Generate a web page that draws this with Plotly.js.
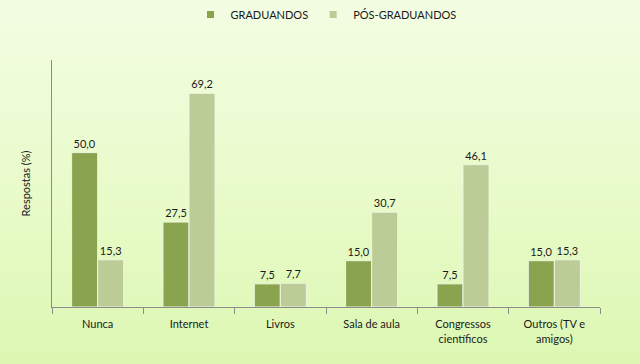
<!DOCTYPE html>
<html><head><meta charset="utf-8">
<script src="https://cdn.plot.ly/plotly-3.0.1.min.js"></script>
<style>
html,body{margin:0;padding:0;}
#chart{width:640px;height:364px;background:linear-gradient(to bottom,#f3fde3 0%,#e8fbc9 55%,#dcf7b2 100%);}
</style></head>
<body><div id="chart"></div>
<script>
const categories = ["Nunca","Internet","Livros","Sala de aula","Congressos<br>científicos","Outros (TV e<br>amigos)"];
const graduandos = [50.0,27.5,7.5,15.0,7.5,15.0];
const posGraduandos = [15.3,69.2,7.7,30.7,46.1,15.3];
const seriesNames = ["GRADUANDOS","PÓS-GRADUANDOS"];
const colors = ["#89a34e","#bbcc96"];
const fmt = v => v.toFixed(1).replace('.', ',');
const font = {family:"Lato, 'Noto Sans', sans-serif", size:11, color:"#1a1a1a"};
const mk = (name, vals, color) => ({
  type:"bar", name:name, x:categories, y:vals,
  text: vals.map(fmt), textposition:"outside", cliponaxis:false,
  textfont:font, showlegend:false, legendgroup:name,
  marker:{color:color, line:{color:"#eef5e0", width:1}},
  hoverinfo:"skip"
});
const leg = (name, color) => ({
  type:"scatter", mode:"markers", name:name, x:[categories[0]], y:[null],
  legendgroup:name, showlegend:true,
  marker:{symbol:"square", size:7, color:color}, hoverinfo:"skip"
});
const data = [mk(seriesNames[0], graduandos, colors[0]), mk(seriesNames[1], posGraduandos, colors[1]),
              leg(seriesNames[0], colors[0]), leg(seriesNames[1], colors[1])];
const layout = {
  width:640, height:364,
  margin:{l:52, r:40, t:60, b:57},
  paper_bgcolor:"rgba(0,0,0,0)", plot_bgcolor:"rgba(0,0,0,0)",
  font:font,
  barmode:"group", bargap:0.43, bargroupgap:0,
  showlegend:true,
  legend:{orientation:"h", x:0.5, xanchor:"center", y:1.0, yref:"container", yanchor:"top", font:font, itemwidth:30, traceorder:"normal", tracegroupgap:0},
  xaxis:{showline:true, linecolor:"#8c8c8c", linewidth:1, ticks:"outside", tickson:"boundaries", ticklen:6, tickcolor:"#8c8c8c", tickfont:font, ticklabelstandoff:7, showgrid:false, zeroline:false, fixedrange:true},
  yaxis:{range:[0,80], showline:true, linecolor:"#8c8c8c", linewidth:1, showticklabels:false, ticks:"", showgrid:false, zeroline:false,
    title:{text:"Respostas (%)", font:font, standoff:18}}
};
Plotly.newPlot("chart", data, layout, {displayModeBar:false, staticPlot:true});
</script></body></html>
